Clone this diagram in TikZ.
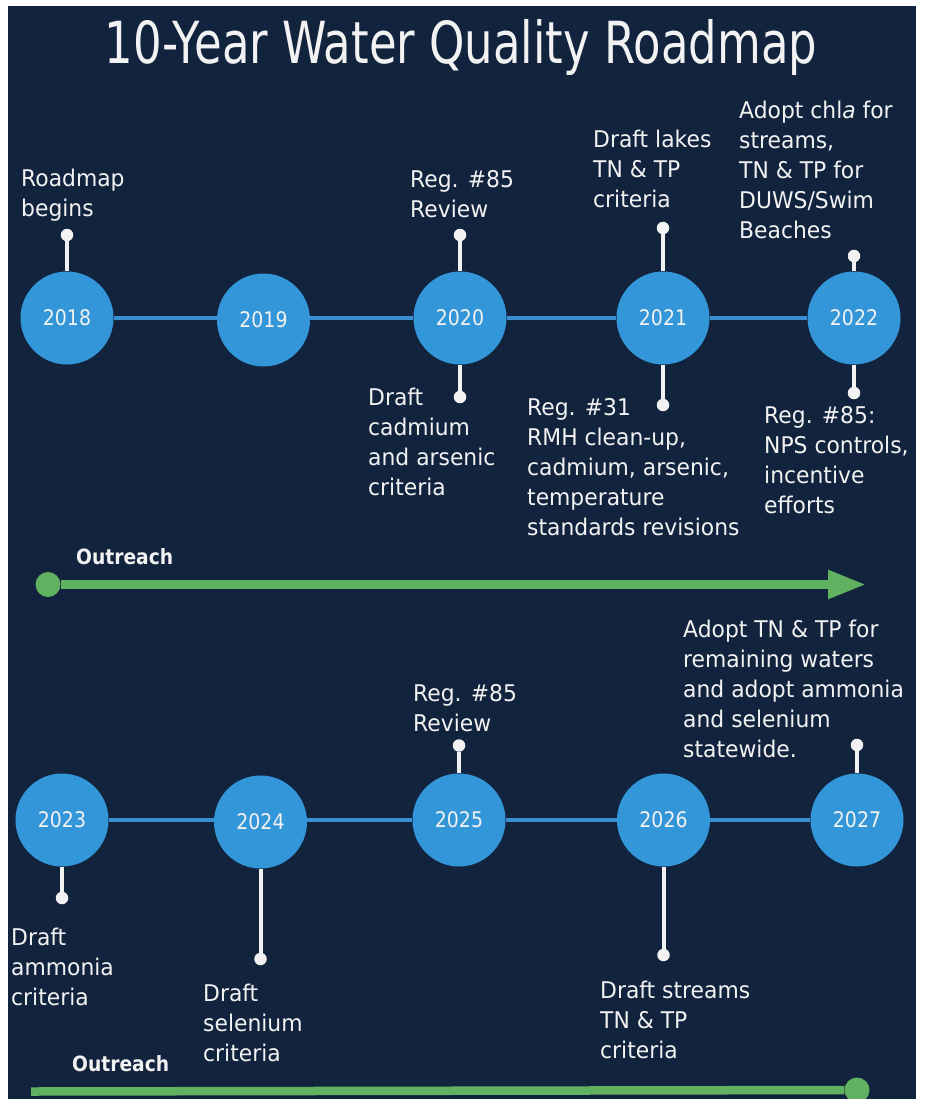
\documentclass[tikz,border=0pt]{standalone}
\usepackage{fontspec}
\setmainfont{DejaVu Sans}[FakeStretch=0.95]
\newfontfamily\titlefont{DejaVu Sans}[FakeStretch=0.775]
\newfontfamily\yearfont{DejaVu Sans}[FakeStretch=0.88]
\newfontfamily\outfont{DejaVu Sans}[FakeStretch=0.89]
\usepackage{tikz}
\usetikzlibrary{arrows.meta}
\definecolor{navy}{RGB}{18,35,62}
\definecolor{yearblue}{RGB}{50,150,216}
\definecolor{linkblue}{RGB}{58,143,210}
\definecolor{outgreen}{RGB}{96,178,96}
\definecolor{paper}{RGB}{242,242,242}
\tikzset{
	year/.style={circle, fill=yearblue, text=paper, inner sep=0pt, minimum size=93pt, font=\yearfont\fontsize{21.5}{25}\selectfont},
	link/.style={linkblue, line width=4pt},
	stem/.style={paper, line width=4pt},
	stemdot/.style={circle, fill=paper, inner sep=0pt, minimum size=12.5pt},
	note/.style={anchor=base west, align=left, inner sep=0pt, text=paper, font=\fontsize{23}{30}\selectfont},
	outlabel/.style={anchor=base west, inner sep=0pt, text=paper, font=\outfont\bfseries\fontsize{21}{25}\selectfont},
	outline/.style={outgreen, line width=8.5pt},
	outdot/.style={circle, fill=outgreen, inner sep=0pt, minimum size=25pt}
}
\begin{document}
\begin{tikzpicture}[x=1pt, y=-1pt]
	\useasboundingbox (0,0) rectangle (928,1099);
	\fill[white] (0,0) rectangle (928,1099);
	\fill[navy] (8,6) rectangle (916,1099);
	\node[anchor=base, inner sep=0pt, text=paper, font=\titlefont\fontsize{58}{60}\selectfont] (title) at (461,64) {10-Year Water Quality Roadmap};

	\node[year] (y2018) at (67,318) {2018};
	\node[year] (y2019) at (263.5,320) {2019};
	\node[year] (y2020) at (460,318) {2020};
	\node[year] (y2021) at (663,318) {2021};
	\node[year] (y2022) at (854,318) {2022};
	\draw[link] (y2018.east) -- (y2019.west |- y2018.east);
	\draw[link] (y2019.east |- y2020.west) -- (y2020.west);
	\draw[link] (y2020) -- (y2021);
	\draw[link] (y2021) -- (y2022);

	\node[stemdot] (d2018) at (67,235) {};
	\node[stemdot] (d2020u) at (460,235) {};
	\node[stemdot] (d2020d) at (460,397) {};
	\node[stemdot] (d2021u) at (663,228) {};
	\node[stemdot] (d2021d) at (663,405) {};
	\node[stemdot] (d2022u) at (854,256) {};
	\node[stemdot] (d2022d) at (854,393) {};
	\draw[stem] (y2018) -- (d2018);
	\draw[stem] (y2020) -- (d2020u);
	\draw[stem] (y2020) -- (d2020d);
	\draw[stem] (y2021) -- (d2021u);
	\draw[stem] (y2021) -- (d2021d);
	\draw[stem] (y2022) -- (d2022u);
	\draw[stem] (y2022) -- (d2022d);

	\node[note] (n2018) at (21,217) {Roadmap\\begins};
	\node[note] (n2020u) at (410,218) {Reg. \#85\\Review};
	\node[note] (n2020d) at (368,495) {Draft\\cadmium\\and arsenic\\criteria};
	\node[note] (n2021u) at (593,208) {Draft lakes\\TN \& TP\\criteria};
	\node[note] (n2021d) at (527,535) {Reg. \#31\\RMH clean-up,\\cadmium, arsenic,\\temperature\\standards revisions};
	\node[note] (n2022u) at (739,239) {Adopt chl\textit{a} for\\streams,\\TN \& TP for\\DUWS/Swim\\Beaches};
	\node[note] (n2022d) at (764,513) {Reg. \#85:\\NPS controls,\\incentive\\efforts};

	\node[outlabel] (out1) at (76,564) {Outreach};
	\node[outdot] (o1start) at (48,584.5) {};
	\coordinate (o1end) at (866,584.5);
	\draw[outline, -{Triangle[length=38pt, width=27pt]}] (o1start) -- (o1end);

	\node[year] (y2023) at (62,820) {2023};
	\node[year] (y2024) at (260.5,822) {2024};
	\node[year] (y2025) at (459,820) {2025};
	\node[year] (y2026) at (663.5,820) {2026};
	\node[year] (y2027) at (857,820) {2027};
	\draw[link] (y2023.east) -- (y2024.west |- y2023.east);
	\draw[link] (y2024.east |- y2025.west) -- (y2025.west);
	\draw[link] (y2025) -- (y2026);
	\draw[link] (y2026) -- (y2027);

	\node[stemdot] (d2023) at (62,898) {};
	\node[stemdot] (d2024) at (260.5,959) {};
	\node[stemdot] (d2025) at (459,745.5) {};
	\node[stemdot] (d2026) at (663.5,955) {};
	\node[stemdot] (d2027) at (857,745) {};
	\draw[stem] (y2023) -- (d2023);
	\draw[stem] (y2024) -- (d2024);
	\draw[stem] (y2025) -- (d2025);
	\draw[stem] (y2026) -- (d2026);
	\draw[stem] (y2027) -- (d2027);

	\node[note] (n2023) at (11,1005) {Draft\\ammonia\\criteria};
	\node[note] (n2024) at (203,1061) {Draft\\selenium\\criteria};
	\node[note] (n2025) at (413,731.5) {Reg. \#85\\Review};
	\node[note] (n2026) at (600,1058) {Draft streams\\TN \& TP\\criteria};
	\node[note] (n2027) at (683,757) {Adopt TN \& TP for\\remaining waters\\and adopt ammonia\\and selenium\\statewide.};

	\node[outlabel] (out2) at (72,1071.5) {Outreach};
	\coordinate (o2start) at (31,1091.5);
	\node[outdot] (o2end) at (857,1090) {};
	\draw[outline] (o2start) -- (o2end);
\end{tikzpicture}
\end{document}
